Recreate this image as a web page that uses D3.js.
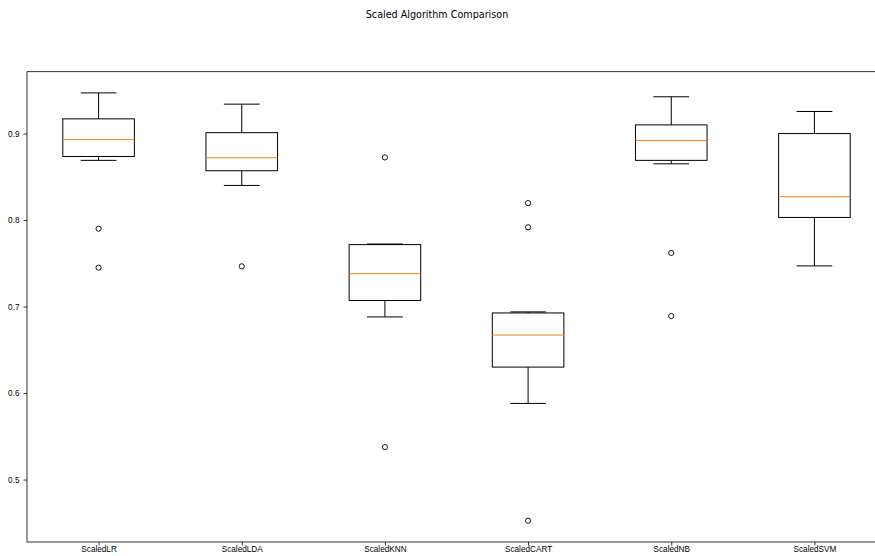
<!DOCTYPE html>
<html>
<head>
<meta charset="utf-8">
<script src="https://cdn.jsdelivr.net/npm/d3@7"></script>
<style>
  body { margin: 0; background: #fff; }
  svg { display: block; font-family: "DejaVu Sans", sans-serif; }
</style>
</head>
<body>
<div id="chart"></div>
<script>
// box plot summary per model
const names = ['ScaledLR', 'ScaledLDA', 'ScaledKNN', 'ScaledCART', 'ScaledNB', 'ScaledSVM'];
const whiskerLow = [0.869, 0.840, 0.688, 0.588, 0.865, 0.747];
const q1 = [0.8735, 0.857, 0.707, 0.630, 0.869, 0.803];
const medians = [0.893, 0.872, 0.738, 0.667, 0.892, 0.827];
const q3 = [0.917, 0.901, 0.7716, 0.6926, 0.910, 0.900];
const whiskerHigh = [0.947, 0.934, 0.7723, 0.6938, 0.9425, 0.9255];
const outliers = [
	[0.790, 0.745],
	[0.7465],
	[0.8724, 0.5375],
	[0.8196, 0.7916, 0.4524],
	[0.762, 0.689],
	[]
];
const yTicks = [0.5, 0.6, 0.7, 0.8, 0.9];

const width = 875;
const height = 556;
const plot = { left: 27, top: 71.7, right: 886, bottom: 542 };

const svg = d3.select('#chart')
	.append('svg')
	.attr('width', width)
	.attr('height', height);

// title
svg.append('text')
	.attr('x', 437)
	.attr('y', 18)
	.attr('text-anchor', 'middle')
	.style('font-size', '9.6px')
	.style('fill', '#000')
	.text('Scaled Algorithm Comparison');

// x scale: positions 1..6 with 0.5 padding on each side
const x = d3.scaleLinear()
	.domain([0.5, names.length + 0.5])
	.range([plot.left, plot.right]);

const y = d3.scaleLinear()
	.domain([0.4278, 0.9715])
	.range([plot.bottom, plot.top]);

const boxHalf = 0.25;
const capHalf = 0.125;

// axes
const xAxis = d3.axisBottom(x)
	.tickValues(d3.range(1, names.length + 1))
	.tickFormat((d) => names[d - 1])
	.tickSizeInner(3.5)
	.tickSizeOuter(0);

const yAxis = d3.axisLeft(y)
	.tickValues(yTicks)
	.tickFormat(d3.format('.1f'))
	.tickSizeInner(3.5)
	.tickSizeOuter(0);

const gx = svg.append('g')
	.attr('transform', `translate(0,${plot.bottom})`)
	.call(xAxis);
const gy = svg.append('g')
	.attr('transform', `translate(${plot.left},0)`)
	.call(yAxis);

[gx, gy].forEach((g) => {
	g.select('.domain').remove();
	g.selectAll('.tick line').attr('stroke', '#000').attr('stroke-width', 0.8);
	g.selectAll('.tick text').style('font-size', '8.2px').attr('fill', '#000');
});
gx.selectAll('.tick text').attr('y', 4).attr('dy', '0.71em');
gy.selectAll('.tick text').attr('dx', '-1px');

// frame
svg.append('rect')
	.attr('x', plot.left)
	.attr('y', plot.top)
	.attr('width', plot.right - plot.left)
	.attr('height', plot.bottom - plot.top)
	.attr('fill', 'none')
	.attr('stroke', '#000')
	.attr('stroke-width', 0.8);

// boxes
const boxes = svg.selectAll('g.box')
	.data(names)
	.enter()
	.append('g')
	.attr('class', 'box');

boxes.each(function(name, i) {
	const g = d3.select(this);
	const c = i + 1;
	const stroke = (sel) => sel.attr('stroke', '#000').attr('stroke-width', 1).attr('fill', 'none');

	// whiskers
	g.append('line').call(stroke)
		.attr('x1', x(c)).attr('x2', x(c))
		.attr('y1', y(q3[i])).attr('y2', y(whiskerHigh[i]));
	g.append('line').call(stroke)
		.attr('x1', x(c)).attr('x2', x(c))
		.attr('y1', y(q1[i])).attr('y2', y(whiskerLow[i]));

	// caps
	g.append('line').call(stroke)
		.attr('x1', x(c - capHalf)).attr('x2', x(c + capHalf))
		.attr('y1', y(whiskerHigh[i])).attr('y2', y(whiskerHigh[i]));
	g.append('line').call(stroke)
		.attr('x1', x(c - capHalf)).attr('x2', x(c + capHalf))
		.attr('y1', y(whiskerLow[i])).attr('y2', y(whiskerLow[i]));

	// box
	g.append('rect').call(stroke)
		.attr('x', x(c - boxHalf))
		.attr('y', y(q3[i]))
		.attr('width', x(c + boxHalf) - x(c - boxHalf))
		.attr('height', y(q1[i]) - y(q3[i]));

	// median
	g.append('line')
		.attr('stroke', '#ff7f0e')
		.attr('stroke-width', 1)
		.attr('x1', x(c - boxHalf)).attr('x2', x(c + boxHalf))
		.attr('y1', y(medians[i])).attr('y2', y(medians[i]));

	// fliers
	g.selectAll('circle')
		.data(outliers[i])
		.enter()
		.append('circle')
		.attr('cx', x(c))
		.attr('cy', (d) => y(d))
		.attr('r', 2.6)
		.attr('fill', 'none')
		.attr('stroke', '#000')
		.attr('stroke-width', 0.9);
});
</script>
</body>
</html>
